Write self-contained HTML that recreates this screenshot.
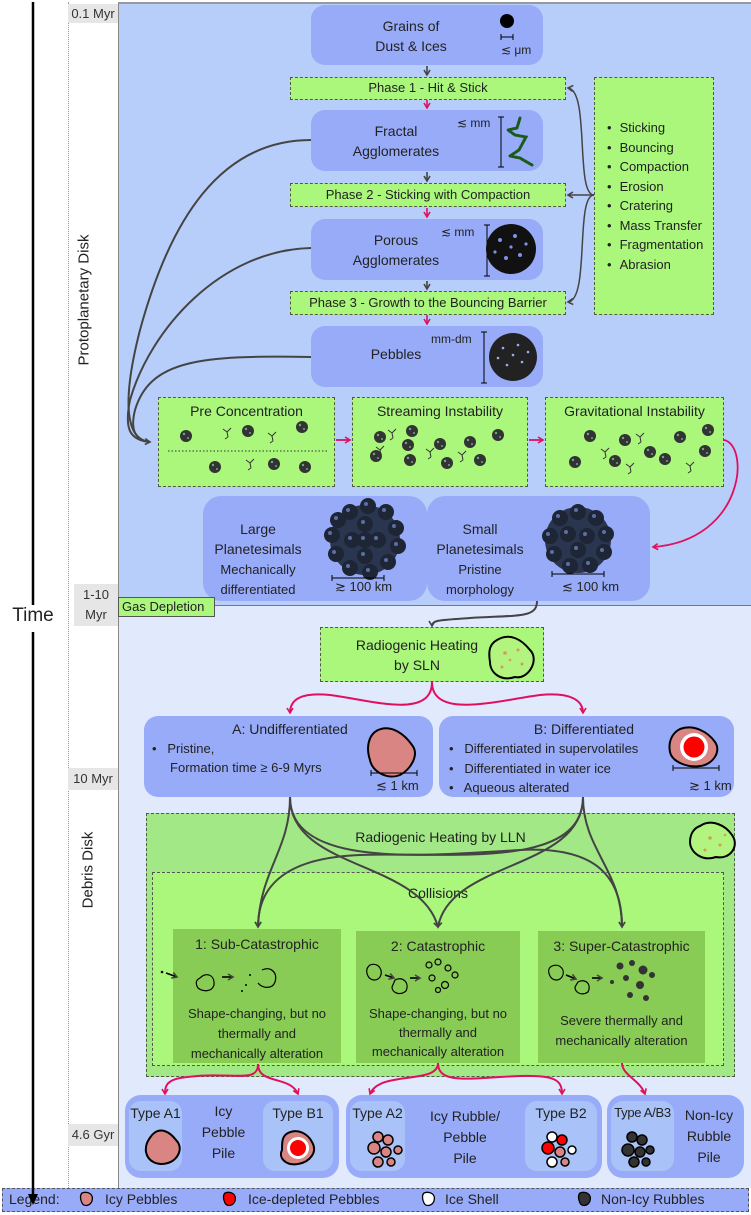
<!DOCTYPE html>
<html><head><meta charset="utf-8"><style>
*{margin:0;padding:0;box-sizing:border-box}
body{width:751px;height:1215px;position:relative;background:#fff;font-family:"Liberation Sans",sans-serif;color:#222;overflow:hidden}
.a{position:absolute}
.blue{background:#98abf9;border-radius:14px}
.lblue{background:#a9c3f9;border-radius:12px}
.gr{background:#aaf77c;border:1.5px dashed #555}
.dg{background:#88cc55}
.c{text-align:center}
.t13{font-size:13px}.t14{font-size:14px}
.gray{background:#e6e6e6;font-size:13px;text-align:center;color:#333}
ul{list-style:none}
li:before{content:"•";margin-right:8px}
.nw{white-space:nowrap}
</style></head><body>
<div class="a" style="left:118px;top:2px;width:633px;height:603px;background:#b8cefa;border-left:1px solid #888;border-top:2px solid #999"></div>
<div class="a" style="left:118px;top:605px;width:633px;height:583px;background:#e1e9fc;border-left:1px solid #888;border-top:1px solid #777"></div>
<div class="a" style="left:68px;top:2px;width:0;height:1186px;border-left:1px dotted #999"></div>
<div class="a gray" style="left:68px;top:4px;width:50px;height:19px;line-height:19px">0.1 Myr</div>
<div class="a gray" style="left:74px;top:584px;width:44px;height:42px;line-height:20px;padding-top:1px">1-10<br>Myr</div>
<div class="a gray" style="left:68px;top:768px;width:50px;height:22px;line-height:22px">10 Myr</div>
<div class="a gray" style="left:68px;top:1124px;width:50px;height:22px;line-height:22px">4.6 Gyr</div>
<div class="a" style="left:84px;top:300px;transform:translate(-50%,-50%) rotate(-90deg);font-size:15px;white-space:nowrap">Protoplanetary Disk</div>
<div class="a" style="left:88px;top:870px;transform:translate(-50%,-50%) rotate(-90deg);font-size:15px;white-space:nowrap">Debris Disk</div>
<div class="a" style="left:8px;top:605px;width:50px;height:26px;background:#fff;font-size:19px;text-align:center">Time</div>

<div class="a blue t14" style="left:311px;top:5px;width:232px;height:60px"><div class="a c" style="left:20px;top:11px;width:160px;line-height:20px">Grains of<br>Dust &amp; Ices</div><div class="a" style="left:190px;top:38px;font-size:12px">≲ μm</div></div>
<div class="a gr c t13" style="left:290px;top:77px;width:276px;height:23px;line-height:20px">Phase 1 - Hit &amp; Stick</div>
<div class="a blue t14" style="left:311px;top:110px;width:232px;height:61px"><div class="a c" style="left:10px;top:11px;width:150px;line-height:20px">Fractal<br>Agglomerates</div><div class="a" style="left:146px;top:6px;font-size:12px">≲ mm</div></div>
<div class="a gr c t13" style="left:290px;top:183px;width:276px;height:24px;line-height:21px">Phase 2 - Sticking with Compaction</div>
<div class="a blue t14" style="left:311px;top:219px;width:232px;height:61px"><div class="a c" style="left:10px;top:11px;width:150px;line-height:20px">Porous<br>Agglomerates</div><div class="a" style="left:130px;top:6px;font-size:12px">≲ mm</div></div>
<div class="a gr c t13" style="left:290px;top:291px;width:276px;height:24px;line-height:21px">Phase 3 - Growth to the Bouncing Barrier</div>
<div class="a blue t14" style="left:311px;top:326px;width:232px;height:61px"><div class="a c" style="left:10px;top:20px;width:150px">Pebbles</div><div class="a" style="left:120px;top:6px;font-size:12px">mm-dm</div></div>
<div class="a gr t13" style="left:594px;top:77px;width:120px;height:238px;padding:40px 0 0 12px;line-height:19.5px"><ul><li>Sticking</li><li>Bouncing</li><li>Compaction</li><li>Erosion</li><li>Cratering</li><li>Mass Transfer</li><li>Fragmentation</li><li>Abrasion</li></ul></div>

<div class="a gr c t14" style="left:158px;top:397px;width:177px;height:90px;padding-top:5px">Pre Concentration</div>
<div class="a gr c t14" style="left:352px;top:397px;width:176px;height:90px;padding-top:5px">Streaming Instability</div>
<div class="a gr c t14" style="left:545px;top:397px;width:179px;height:90px;padding-top:5px">Gravitational Instability</div>

<div class="a blue t14" style="left:203px;top:496px;width:224px;height:105px;border-radius:18px"><div class="a c" style="left:0;top:23px;width:110px;line-height:20px">Large<br>Planetesimals<br><span style="font-size:13px;line-height:18px">Mechanically<br>differentiated</span></div><div class="a nw" style="left:132px;top:83px;font-size:13px">≳ 100 km</div></div>
<div class="a blue t14" style="left:427px;top:496px;width:223px;height:105px;border-radius:18px"><div class="a c" style="left:0;top:23px;width:106px;line-height:20px">Small<br>Planetesimals<br><span style="font-size:13px;line-height:18px">Pristine<br>morphology</span></div><div class="a nw" style="left:135px;top:83px;font-size:13px">≲ 100 km</div></div>
<div class="a t13" style="left:118px;top:597px;width:97px;height:20px;background:#aaf77c;border:1px solid #555;padding-left:3px;line-height:18px">Gas Depletion</div>

<div class="a gr c t14" style="left:320px;top:627px;width:224px;height:55px;line-height:20px;padding:7px 30px 0 0">Radiogenic Heating<br>by SLN</div>

<div class="a blue t14" style="left:144px;top:716px;width:289px;height:81px"><div class="a c" style="left:56px;top:5px;width:180px">A: Undifferentiated</div><div class="a t13" style="left:8px;top:23px;line-height:19px">•&nbsp;&nbsp; Pristine,<br>&nbsp;&nbsp;&nbsp;&nbsp; Formation time ≥ 6-9 Myrs</div><div class="a t13 nw" style="left:232px;top:62px">≲ 1 km</div></div>
<div class="a blue t14" style="left:439px;top:716px;width:295px;height:81px"><div class="a c" style="left:50px;top:5px;width:190px">B: Differentiated</div><div class="a t13 nw" style="left:10px;top:23px;line-height:19.5px">•&nbsp;&nbsp; Differentiated in supervolatiles<br>•&nbsp;&nbsp; Differentiated in water ice<br>•&nbsp;&nbsp; Aqueous alterated</div><div class="a t13 nw" style="left:250px;top:62px">≳ 1 km</div></div>

<div class="a c t14" style="left:146px;top:813px;width:589px;height:264px;background:#a3e887;border:1.5px dashed #555;padding-top:15px">Radiogenic Heating by LLN</div>
<div class="a c t14" style="left:152px;top:872px;width:572px;height:194px;background:#aaf77c;border:1.5px dashed #555;padding-top:12px">Collisions</div>
<div class="a dg c t14" style="left:173px;top:929px;width:168px;height:134px;padding-top:7px"><div>1: Sub-Catastrophic</div><div class="t13" style="position:absolute;top:75px;width:168px;line-height:20px">Shape-changing, but no<br>thermally and<br>mechanically alteration</div></div>
<div class="a dg c t14" style="left:356px;top:931px;width:164px;height:132px;padding-top:7px"><div>2: Catastrophic</div><div class="t13" style="position:absolute;top:73px;width:164px;line-height:19px">Shape-changing, but no<br>thermally and<br>mechanically alteration</div></div>
<div class="a dg c t14" style="left:538px;top:931px;width:167px;height:132px;padding-top:7px"><div>3: Super-Catastrophic</div><div class="t13" style="position:absolute;top:80px;width:167px;line-height:20px">Severe thermally and<br>mechanically alteration</div></div>

<div class="a blue" style="left:125px;top:1095px;width:214px;height:83px;border-radius:16px"></div>
<div class="a lblue c t14 nw" style="left:129px;top:1101px;width:53px;height:70px;padding-top:4px">Type A1</div>
<div class="a lblue c t14 nw" style="left:263px;top:1101px;width:70px;height:70px;padding-top:4px">Type B1</div>
<div class="a c t14" style="left:186px;top:1101px;width:75px;line-height:21px">Icy<br>Pebble<br>Pile</div>
<div class="a blue" style="left:346px;top:1095px;width:256px;height:83px;border-radius:16px"></div>
<div class="a lblue c t14 nw" style="left:350px;top:1101px;width:55px;height:70px;padding-top:4px">Type A2</div>
<div class="a lblue c t14 nw" style="left:525px;top:1101px;width:72px;height:70px;padding-top:4px">Type B2</div>
<div class="a c t14" style="left:405px;top:1106px;width:120px;line-height:21px">Icy Rubble/<br>Pebble<br>Pile</div>
<div class="a blue" style="left:607px;top:1095px;width:137px;height:83px;border-radius:16px"></div>
<div class="a lblue c nw" style="left:611px;top:1101px;width:63px;height:70px;padding-top:4px;font-size:13px;letter-spacing:-0.3px">Type A/B3</div>
<div class="a c t14" style="left:674px;top:1105px;width:70px;line-height:21px">Non-Icy<br>Rubble<br>Pile</div>

<div class="a t14 nw" style="left:2px;top:1188px;width:747px;height:24px;background:#98abf9;border:1.5px dashed #555;line-height:21px;padding-left:6px">Legend:<span class="a" style="left:102px;top:0">Icy Pebbles</span><span class="a" style="left:245px;top:0">Ice-depleted Pebbles</span><span class="a" style="left:442px;top:0">Ice Shell</span><span class="a" style="left:598px;top:0">Non-Icy Rubbles</span></div>

<svg class="a" style="left:0;top:0" width="751" height="1215" viewBox="0 0 751 1215">
<defs>
<marker id="g" markerWidth="8" markerHeight="8" refX="6" refY="4" orient="auto" markerUnits="userSpaceOnUse"><path d="M1,1 L6,4 L1,7" fill="none" stroke="#444" stroke-width="1.6"/></marker>
<marker id="p" markerWidth="8" markerHeight="8" refX="6" refY="4" orient="auto" markerUnits="userSpaceOnUse"><path d="M1,1 L6,4 L1,7" fill="none" stroke="#e0105f" stroke-width="1.6"/></marker>
<g id="rock"><circle r="6" fill="#333"/><circle r="1.2" cx="-2" cy="-2" fill="#6a8"/><circle r="1" cx="2" cy="2" fill="#6a8"/></g>
<g id="frac" fill="none" stroke="#333" stroke-width="1"><path d="M0,0 l-4,-3 M0,0 l4,-4 M0,0 l1,5 M1,5 l-3,2"/></g>
<g id="cl"><circle r="8" fill="#1e2534"/><circle r="2" cx="-2" cy="-2" fill="#5a6fa8"/></g>
</defs>
<line x1="33" y1="2" x2="33" y2="605" stroke="#000" stroke-width="2.5"/>
<line x1="33" y1="632" x2="33" y2="1196" stroke="#000" stroke-width="2.5"/>
<path d="M28,1194 L33,1205 L38,1194 Z" fill="#000"/>
<circle cx="507" cy="21" r="7" fill="#000"/>
<path d="M501,37 H513 M501,34 V40 M513,34 V40" stroke="#000" stroke-width="1"/>
<path d="M501,117 V167 M498,117 H504 M498,167 H504" stroke="#000" stroke-width="1"/>
<path d="M520,118 L517,128 L508,130 L515,135 L526,137 L519,150 L510,156 L520,158 L532,165" fill="none" stroke="#1a5a1a" stroke-width="3" stroke-linecap="round" stroke-dasharray="2 1.5"/>
<path d="M487,225 V276 M484,225 H490 M484,276 H490" stroke="#000" stroke-width="1"/>
<circle cx="511" cy="249" r="25" fill="#111"/>
<g fill="#7e91e6"><circle cx="500" cy="240" r="2"/><circle cx="515" cy="236" r="2"/><circle cx="520" cy="255" r="2"/><circle cx="506" cy="258" r="2"/><circle cx="495" cy="252" r="1.6"/><circle cx="526" cy="244" r="1.6"/><circle cx="511" cy="247" r="1.6"/></g>
<path d="M484,332 V383 M481,332 H487 M481,383 H487" stroke="#000" stroke-width="1"/>
<circle cx="513" cy="357" r="24" fill="#222"/>
<g fill="#9aadf8"><circle cx="503" cy="348" r="1.3"/><circle cx="518" cy="345" r="1.3"/><circle cx="522" cy="362" r="1.3"/><circle cx="507" cy="365" r="1.3"/><circle cx="513" cy="355" r="1.3"/><circle cx="528" cy="352" r="1.3"/><circle cx="498" cy="358" r="1.3"/></g>
<g stroke="#444" stroke-width="1.6" fill="none" marker-end="url(#g)"><path d="M427,66 V75"/><path d="M427,172 V181"/><path d="M427,281 V289"/></g>
<g stroke="#e0105f" stroke-width="1.6" fill="none" marker-end="url(#p)"><path d="M427,100 V108"/><path d="M427,208 V217"/><path d="M427,315 V324"/></g>
<g stroke="#444" stroke-width="1.5" fill="none" marker-end="url(#g)"><path d="M594,195 C575,195 590,90 568,88"/><path d="M594,195 H568"/><path d="M594,195 C575,195 590,300 568,302"/></g>
<g stroke="#444" stroke-width="2" fill="none"><path d="M311,140 C220,140 170,220 140,330 C122,400 125,440 150,442" marker-end="url(#g)"/><path d="M311,248 C220,250 150,330 130,400 C124,430 130,440 150,442"/><path d="M311,357 C200,355 150,360 135,410 C130,430 135,440 150,442"/></g>
<line x1="168" y1="451" x2="328" y2="451" stroke="#333" stroke-dasharray="1.5 2"/>
<g><use href="#rock" x="186" y="436"/><use href="#rock" x="248" y="431"/><use href="#rock" x="302" y="427"/><use href="#rock" x="215" y="467"/><use href="#rock" x="274" y="464"/><use href="#rock" x="305" y="467"/>
<use href="#frac" x="227" y="432"/><use href="#frac" x="272" y="436"/><use href="#frac" x="250" y="463"/>
<use href="#rock" x="380" y="437"/><use href="#rock" x="408" y="445"/><use href="#rock" x="440" y="444"/><use href="#rock" x="470" y="442"/><use href="#rock" x="498" y="435"/><use href="#rock" x="376" y="456"/><use href="#rock" x="410" y="460"/><use href="#rock" x="447" y="463"/><use href="#rock" x="480" y="460"/><use href="#rock" x="412" y="431"/>
<use href="#frac" x="392" y="433"/><use href="#frac" x="430" y="452"/><use href="#frac" x="462" y="455"/><use href="#frac" x="380" y="450"/>
<use href="#rock" x="590" y="436"/><use href="#rock" x="625" y="440"/><use href="#rock" x="650" y="452"/><use href="#rock" x="680" y="437"/><use href="#rock" x="708" y="430"/><use href="#rock" x="575" y="462"/><use href="#rock" x="615" y="461"/><use href="#rock" x="665" y="459"/><use href="#rock" x="705" y="451"/>
<use href="#frac" x="605" y="452"/><use href="#frac" x="630" y="467"/><use href="#frac" x="690" y="466"/><use href="#frac" x="640" y="437"/></g>
<g stroke="#e0105f" stroke-width="1.8" fill="none" marker-end="url(#p)"><path d="M336,440 H350"/><path d="M529,440 H543"/><path d="M724,440 C750,445 745,540 653,547"/></g>
<circle cx="365" cy="540" r="35" fill="#2a3550"/><circle cx="578" cy="540" r="33" fill="#2a3550"/>
<g><use href="#cl" x="365" y="540"/><use href="#cl" x="350" y="512"/><use href="#cl" x="368" y="506"/><use href="#cl" x="386" y="512"/><use href="#cl" x="396" y="528"/><use href="#cl" x="398" y="546"/><use href="#cl" x="388" y="562"/><use href="#cl" x="370" y="572"/><use href="#cl" x="350" y="568"/><use href="#cl" x="336" y="554"/><use href="#cl" x="332" y="535"/><use href="#cl" x="338" y="520"/><use href="#cl" x="352" y="540"/><use href="#cl" x="378" y="540"/><use href="#cl" x="365" y="524"/><use href="#cl" x="365" y="556"/>
<use href="#cl" x="560" y="518"/><use href="#cl" x="578" y="512"/><use href="#cl" x="596" y="518"/><use href="#cl" x="606" y="534"/><use href="#cl" x="604" y="552"/><use href="#cl" x="590" y="565"/><use href="#cl" x="570" y="566"/><use href="#cl" x="554" y="554"/><use href="#cl" x="550" y="536"/><use href="#cl" x="568" y="534"/><use href="#cl" x="587" y="536"/><use href="#cl" x="578" y="550"/></g>
<path d="M332,578 H384 M332,575 V581 M384,575 V581 M552,574 H604 M552,571 V577 M604,571 V577" stroke="#000" stroke-width="1"/>
<path d="M537,601 C537,618 520,615 470,618 C440,620 432,620 432,626" stroke="#444" stroke-width="2" fill="none" marker-end="url(#g)"/>
<g fill="#b2f47f" stroke="#000" stroke-width="2"><path d="M497,640 C510,632 522,640 530,650 C540,660 528,680 515,677 C500,682 490,672 490,662 C488,650 490,644 497,640 Z"/><path d="M700,826 C712,818 726,826 732,835 C740,846 730,860 716,857 C702,862 690,852 690,842 C690,834 694,828 700,826 Z"/></g>
<g fill="#d0a050"><circle cx="505" cy="653" r="1.8"/><circle cx="518" cy="650" r="1.5"/><circle cx="502" cy="667" r="1.5"/><circle cx="522" cy="664" r="1.5"/><circle cx="510" cy="660" r="1.3"/><circle cx="710" cy="838" r="1.8"/><circle cx="720" cy="845" r="1.5"/><circle cx="705" cy="850" r="1.5"/><circle cx="725" cy="835" r="1.3"/></g>
<g stroke="#e0105f" stroke-width="2" fill="none" marker-end="url(#p)"><path d="M432,682 C432,720 370,700 330,695 C300,692 290,700 290,713"/><path d="M432,682 C432,720 500,700 540,695 C570,692 583,700 583,713"/></g>
<path d="M378,730 C392,724 405,735 412,745 C420,755 410,770 400,775 C388,780 372,772 370,760 C366,748 368,735 378,730 Z" fill="#d98583" stroke="#000" stroke-width="2"/>
<path d="M371,773 H417 M371,770 V776 M417,770 V776 M673,768 H719 M673,765 V771 M719,765 V771" stroke="#000" stroke-width="1"/>
<path d="M680,729 C694,724 708,732 715,742 C722,752 712,765 700,766 C688,768 672,762 670,752 C668,742 672,733 680,729 Z" fill="#d98583" stroke="#000" stroke-width="2"/>
<circle cx="694" cy="747" r="14" fill="#fff"/><circle cx="694" cy="747" r="10.5" fill="#f00"/>
<g stroke="#444" stroke-width="2" fill="none" marker-end="url(#g)">
<path d="M290,797 C290,850 260,870 258,927"/>
<path d="M290,797 C290,870 420,860 438,927"/>
<path d="M290,797 C290,870 430,855 520,850 C600,846 622,880 622,927"/>
<path d="M583,797 C583,850 622,870 622,927"/>
<path d="M583,797 C583,870 450,860 438,927"/>
<path d="M583,797 C583,870 450,852 360,855 C280,858 258,890 258,927"/>
</g>
<g fill="none" stroke="#000" stroke-width="1.2">
<path d="M200,978 C205,972 215,974 214,985 C212,992 203,992 198,988 C195,983 196,980 200,978 Z"/>
<path d="M262,970 C270,966 278,972 275,982 C272,990 262,988 258,983"/>
<path d="M370,965 C378,962 384,970 380,977 C376,982 370,980 368,976 C366,972 366,968 370,965 Z M395,980 C402,976 410,982 406,991 C400,996 392,993 392,987 Z"/>
<path d="M552,966 C560,963 566,970 562,977 C558,982 552,980 550,976 C548,972 548,968 552,966 Z M578,982 C585,978 592,984 588,992 C582,996 575,993 575,987 Z"/>
<g stroke-width="1.6" marker-end="url(#g)"><path d="M166,973 L177,977"/><path d="M222,977 H233"/><path d="M385,975 L394,978"/><path d="M410,978 H420"/><path d="M566,975 L576,979"/><path d="M592,978 H602"/></g>
<circle cx="429" cy="965" r="3"/><circle cx="438" cy="962" r="3"/><circle cx="448" cy="968" r="3"/><circle cx="432" cy="978" r="3"/><circle cx="445" cy="985" r="3.5"/><circle cx="455" cy="975" r="3"/><circle cx="438" cy="990" r="2.5"/></g>
<g fill="#000"><circle cx="162" cy="972" r="1.3"/><circle cx="250" cy="975" r="1"/><circle cx="246" cy="985" r="1"/><circle cx="242" cy="991" r="1"/></g>
<g fill="#333"><circle cx="620" cy="966" r="3.5"/><circle cx="632" cy="963" r="3"/><circle cx="643" cy="970" r="4.5"/><circle cx="626" cy="978" r="3"/><circle cx="640" cy="985" r="4"/><circle cx="652" cy="975" r="3"/><circle cx="612" cy="982" r="2"/><circle cx="630" cy="995" r="3"/><circle cx="646" cy="998" r="3"/></g>
<g stroke="#e0105f" stroke-width="2" fill="none" marker-end="url(#p)">
<path d="M258,1064 C258,1085 230,1070 180,1078 C165,1081 165,1088 165,1094"/>
<path d="M258,1064 C258,1085 290,1075 298,1094"/>
<path d="M438,1063 C438,1085 380,1070 370,1094"/>
<path d="M438,1063 C438,1085 470,1078 520,1076 C555,1075 562,1080 562,1094"/>
<path d="M622,1063 C622,1075 640,1080 645,1094"/>
</g>
<path d="M152,1135 C160,1126 170,1132 176,1140 C184,1148 178,1160 168,1163 C158,1166 148,1162 146,1152 C145,1145 148,1140 152,1135 Z" fill="#d98583" stroke="#000" stroke-width="2"/>
<path d="M288,1133 C298,1128 308,1134 312,1142 C318,1152 310,1162 298,1164 C286,1166 278,1158 282,1150 C282,1142 282,1136 288,1133 Z" fill="#d98583" stroke="#000" stroke-width="2"/>
<circle cx="298" cy="1148" r="11" fill="#fff"/><circle cx="298" cy="1148" r="8" fill="#f00"/>
<g transform="translate(116,0)" fill="#d98583" stroke="#000" stroke-width="1.5"><circle cx="262" cy="1137" r="5"/><circle cx="272" cy="1140" r="5"/><circle cx="258" cy="1148" r="6"/><circle cx="270" cy="1152" r="5"/><circle cx="262" cy="1162" r="5"/><circle cx="275" cy="1162" r="4"/><circle cx="282" cy="1150" r="4"/></g>
<g transform="translate(290,0)" stroke="#000" stroke-width="1.5"><circle cx="262" cy="1137" r="5" fill="#fff"/><circle cx="272" cy="1140" r="5" fill="#f00"/><circle cx="258" cy="1148" r="6" fill="#f00"/><circle cx="270" cy="1152" r="5" fill="#d98583"/><circle cx="262" cy="1162" r="5" fill="#fff"/><circle cx="275" cy="1162" r="4" fill="#d98583"/><circle cx="282" cy="1150" r="4" fill="#fff"/></g>
<g transform="translate(190,0)" fill="#333" stroke="#000" stroke-width="1.5"><circle cx="442" cy="1137" r="5"/><circle cx="452" cy="1140" r="5"/><circle cx="438" cy="1150" r="6"/><circle cx="450" cy="1152" r="5"/><circle cx="444" cy="1162" r="5"/><circle cx="456" cy="1162" r="4"/><circle cx="460" cy="1150" r="4"/></g>
<g stroke="#000" stroke-width="1.3"><path d="M82,1193 C88,1191 94,1194 92,1201 C90,1206 84,1207 82,1203 C80,1199 80,1195 82,1193 Z" fill="#d98583"/><path d="M225,1193 C231,1191 237,1194 235,1201 C233,1206 227,1207 225,1203 C223,1199 223,1195 225,1193 Z" fill="#f00"/><path d="M424,1193 C430,1191 436,1194 434,1201 C432,1206 426,1207 424,1203 C422,1199 422,1195 424,1193 Z" fill="#fff"/><path d="M580,1193 C586,1191 592,1194 590,1201 C588,1206 582,1207 580,1203 C578,1199 578,1195 580,1193 Z" fill="#333"/></g>
</svg>
</body></html>
